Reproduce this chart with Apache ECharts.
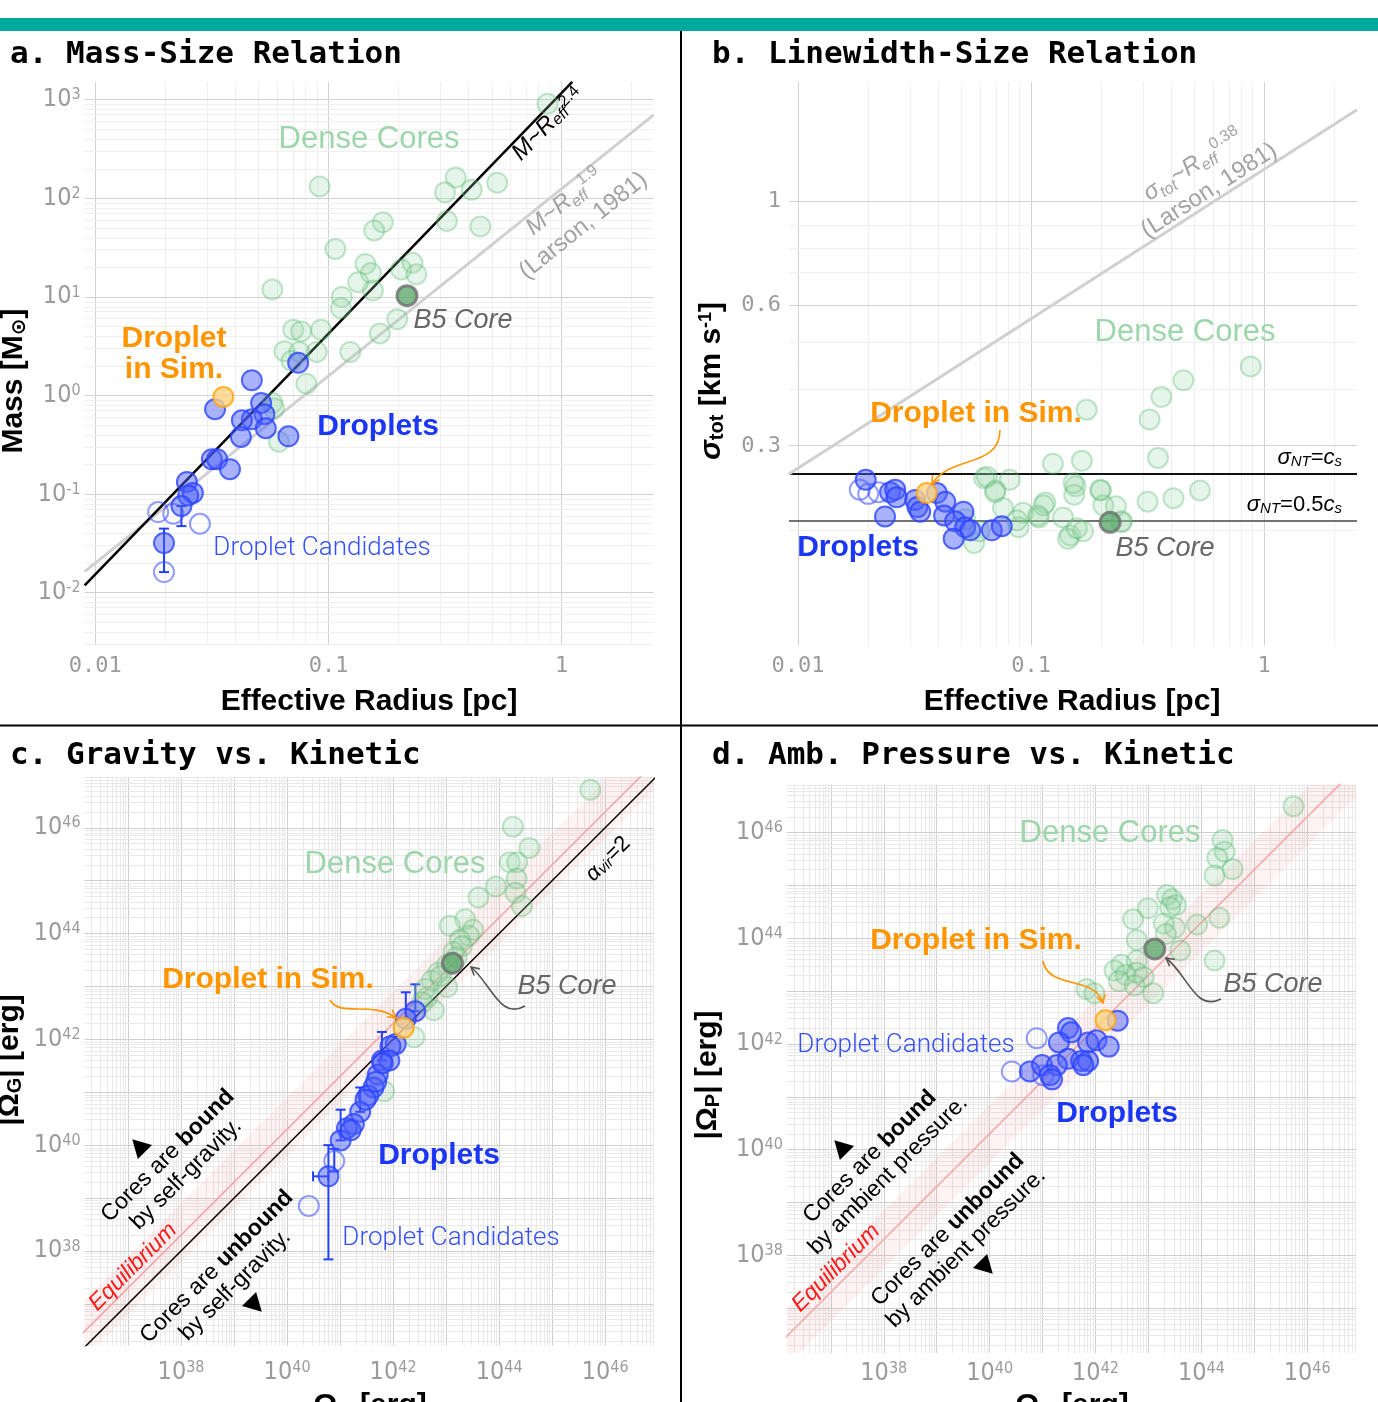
<!DOCTYPE html>
<html>
<head>
<meta charset="utf-8">
<script src="https://cdn.jsdelivr.net/npm/echarts@6/dist/echarts.min.js"></script>
<style>
  html, body { margin: 0; padding: 0; background: #fff; }
  #chart { width: 1378px; height: 1402px; }
</style>
</head>
<body>
<div id="chart"></div>
<script>
// ---------- a. mass-size : effective radius [pc], mass [Msun] ----------
var coreR_a = [0.869,0.0916,0.351,0.316,0.411,0.529,0.322,0.448,0.171,0.157,0.107,0.144,0.152,0.155,0.134,0.205,0.229,0.238,0.0574,0.114,0.113,0.197,0.166,0.124,0.0706,0.0763,0.0929,0.0647,0.0750,0.0890,0.0804,0.0694,0.0574,0.0584,0.0613];
var coreM_a = [910,132,163,115,122,144,58.8,51.9,57.1,47.2,30.7,21.6,17.5,11.6,14.1,19.0,22.2,17.0,11.9,10.0,7.69,5.95,4.26,2.77,4.65,4.47,4.65,2.82,2.77,2.77,1.32,2.25,0.841,0.743,0.340];
var dropR_a = [0.0741,0.0469,0.0326,0.0514,0.0531,0.0469,0.0425,0.0538,0.0421,0.0673,0.0316,0.0333,0.0378,0.0247,0.0262,0.0250,0.0234,0.0197];
var dropM_a = [2.15,1.43,0.726,0.841,0.646,0.574,0.561,0.466,0.380,0.386,0.226,0.226,0.179,0.133,0.103,0.097,0.0757,0.0319];
var candR_a = [0.0186,0.0216,0.0281,0.0197];
var candM_a = [0.0658,0.0634,0.0501,0.0162];
var simR_a = [0.0354], simM_a = [0.968];
var b5R_a = [0.217], b5M_a = [10.3];
var errA = [[0.0197,0.0162,0.0447],[0.0234,0.0474,0.0757]];   // R, M low, M high
var steepA = [[0.009,0.0119],[1.11,1514]];                  // M ~ R^2.4
var larsonA = [[0.009,0.0164],[2.48,703]];                  // M ~ R^1.9

// ---------- b. linewidth-size : effective radius [pc], sigma_tot [km/s] ----------
var coreR_b = [0.173,0.322,0.362,0.450,0.875,0.350,0.124,0.165,0.0629,0.0809,0.0703,0.155,0.199,0.153,0.316,0.408,0.530,0.0757,0.115,0.137,0.204,0.231,0.0923,0.108,0.0883,0.147,0.167,0.243,0.0569,0.0600,0.0521,0.0869,0.107,0.113,0.144,0.157,0.152,0.198,0.0646,0.070,0.245];
var coreS_b = [0.360,0.343,0.383,0.416,0.445,0.284,0.276,0.280,0.257,0.255,0.242,0.247,0.242,0.237,0.229,0.233,0.242,0.222,0.228,0.212,0.225,0.224,0.217,0.212,0.202,0.194,0.198,0.207,0.187,0.198,0.210,0.209,0.214,0.225,0.191,0.201,0.251,0.243,0.259,0.240,0.208];
var dropR_b = [0.0195,0.0248,0.0261,0.0265,0.0236,0.0318,0.0325,0.0334,0.0394,0.0428,0.0423,0.0512,0.0472,0.0521,0.0548,0.0465,0.0678,0.0748];
var dropS_b = [0.255,0.240,0.243,0.234,0.213,0.231,0.223,0.218,0.239,0.229,0.214,0.218,0.208,0.202,0.199,0.191,0.199,0.203];
var candR_b = [0.0184,0.0200,0.0221];
var candS_b = [0.243,0.238,0.240];
var simR_b = [0.0356], simS_b = [0.239];
var b5R_b = [0.218], b5S_b = [0.207];
var larsonB = [[0.0091,0.262],[2.5,1.57]];
var sigmaNT = [0.264, 0.209];   // sigma_NT = cs, sigma_NT = 0.5 cs

// ---------- c. gravity vs kinetic : log10 energies [erg] ----------
var coreK_c = [45.72,44.26,44.57,44.20,44.34,44.33,43.94,43.61,44.31,44.43,43.36,43.07,43.51,43.43,43.26,43.30,43.14,43.02,42.85,42.73,43.02,42.65,42.77,42.40,41.83,42.60,42.90,43.20,42.55];
var coreG_c = [46.72,46.02,45.62,45.35,45.35,45.04,44.89,44.68,44.77,44.52,44.27,44.15,44.07,43.96,43.88,43.76,43.65,43.41,43.26,43.11,42.99,42.80,42.55,42.04,41.02,42.95,43.20,43.55,42.70];
var dropK_c = [42.42,42.24,42.05,41.95,41.79,41.93,41.71,41.63,41.53,41.38,41.26,41.13,41.01,40.78,41.80,41.68,41.48,41.20];
var dropG_c = [42.53,42.39,41.91,41.87,41.60,41.60,41.33,41.09,40.94,40.63,40.40,40.32,40.09,39.41,41.55,41.20,40.86,40.28];
var candK_c = [40.41,40.89];
var candG_c = [38.85,39.70];
var simK_c = [42.20], simG_c = [42.22];
var b5K_c = [43.12], b5G_c = [43.44];
var errC = [[42.42,42.53,43.04],[42.24,42.39,42.89],[41.79,41.60,42.14],[41.38,40.63,41.09],[41.01,40.09,40.67],[40.78,37.84,40.00],[40.89,39.50,39.93]];
var errCx = [[39.41,40.49,40.78]];
var virC = [[36,36],[47,47]];
var eqC = [[36,36.3],[47,47.3]];
var bandC = [[36,35.8],[47,46.8],[47,47.9],[36,36.9]];

// ---------- d. ambient pressure vs kinetic : log10 energies [erg] ----------
var coreK_d = [45.74,44.40,44.44,44.30,44.59,44.25,43.35,43.45,43.52,43.41,42.99,42.71,44.34,43.92,43.29,43.50,43.33,42.78,43.60,44.25,42.78,42.49,42.36,42.57,42.78,42.91,42.44,42.74,43.09,41.83,41.98];
var coreP_d = [46.50,45.86,45.64,45.52,45.31,45.19,44.82,44.74,44.63,44.59,44.57,44.36,44.39,44.26,44.28,44.20,44.08,43.97,43.77,43.58,43.58,43.50,43.39,43.31,43.35,43.27,43.19,43.11,42.96,43.04,42.96];
var dropK_d = [42.42,41.48,41.54,41.31,41.86,42.02,42.25,41.48,41.73,41.86,41.77,40.76,40.99,41.27,41.14,41.18];
var dropP_d = [42.44,42.30,42.22,42.03,42.03,42.07,41.95,41.72,41.68,41.68,41.60,41.48,41.60,41.60,41.41,41.33];
var candK_d = [40.89,40.42,41.01];
var candP_d = [42.11,41.48,41.41];
var simK_d = [42.19], simP_d = [42.45];
var b5K_d = [43.12], b5P_d = [43.80];
var eqD = [[36,36.3],[47,47.3]];
var bandD = [[36,35.75],[47,46.75],[47,47.85],[36,36.85]];

// tick labels
var ticksRadius = [0.01, 0.1, 1];
var ticksMass = [-2, -1, 0, 1, 2, 3];
var ticksSigma = [0.3, 0.6, 1];
var ticksEnergy = [38, 40, 42, 44, 46];

// ---------- styles ----------
var FS = "'Liberation Sans', 'DejaVu Sans', sans-serif";
var NARROW = "'Liberation Sans Narrow', 'DejaVu Sans Condensed', 'Liberation Sans', sans-serif";
var MONO = "'DejaVu Sans Mono', monospace";
var GRAY = '#9b9b9b';
var BLUE = '#1b36f5';
var ORANGE = '#ff9500';
var GREEN_TXT = '#9dd6aa';

var stCore = {color: 'rgba(150,215,165,0.3)', borderColor: 'rgba(90,185,115,0.45)', borderWidth: 2};
var stDrop = {color: 'rgba(75,95,250,0.6)', borderColor: '#2a44ff', borderWidth: 2};
var stCand = {color: 'rgba(255,255,255,0)', borderColor: 'rgba(60,80,255,0.7)', borderWidth: 2};
var stSim = {color: '#fdd27f', borderColor: '#ffa20a', borderWidth: 2};
var stB5 = {color: '#5ea96e', borderColor: '#6e6e6e', borderWidth: 3};

function lg(v) { return Math.log10(v); }
function pairs(xs, ys, logIt) {
  return xs.map(function (x, i) { return logIt ? [lg(x), lg(ys[i])] : [x, ys[i]]; });
}
function sc(gi, xs, ys, style, z, logIt) {
  return {type: 'scatter', xAxisIndex: gi, yAxisIndex: gi, symbolSize: 20, z: z, silent: true,
    itemStyle: style, emphasis: {disabled: true}, data: pairs(xs, ys, logIt)};
}
function ln(gi, pts, color, width, z, logIt) {
  return {type: 'line', xAxisIndex: gi, yAxisIndex: gi, showSymbol: false, symbol: 'none', clip: true, z: z, silent: true,
    lineStyle: {color: color, width: width, type: 'solid'}, emphasis: {disabled: true},
    data: pts.map(function (p) { return logIt ? [lg(p[0]), lg(p[1])] : p; })};
}
function errSeries(gi, rows, logIt, horiz) {
  return {type: 'custom', xAxisIndex: gi, yAxisIndex: gi, z: 3, silent: true,
    data: rows.map(function (r) { return logIt ? r.map(function (v) { return lg(v); }) : r; }),
    renderItem: function (params, api) {
      var c = api.value(0), lo = api.value(1), hi = api.value(2);
      var a = horiz ? api.coord([lo, c]) : api.coord([c, lo]);
      var b = horiz ? api.coord([hi, c]) : api.coord([c, hi]);
      var w = 5, st = {stroke: '#2340ff', lineWidth: 2};
      var capA = horiz ? {x1: a[0], y1: a[1] - w, x2: a[0], y2: a[1] + w} : {x1: a[0] - w, y1: a[1], x2: a[0] + w, y2: a[1]};
      var capB = horiz ? {x1: b[0], y1: b[1] - w, x2: b[0], y2: b[1] + w} : {x1: b[0] - w, y1: b[1], x2: b[0] + w, y2: b[1]};
      return {type: 'group', children: [
        {type: 'line', shape: {x1: a[0], y1: a[1], x2: b[0], y2: b[1]}, style: st},
        {type: 'line', shape: capA, style: st},
        {type: 'line', shape: capB, style: st}
      ]};
    }};
}
function bandSeries(gi, pts, fill) {
  return {type: 'custom', xAxisIndex: gi, yAxisIndex: gi, z: 1, silent: true, data: pts,
    renderItem: function (params, api) {
      if (params.dataIndex !== 0) return null;
      var cs = params.coordSys;
      return {type: 'polygon', shape: {points: pts.map(function (p) { return api.coord(p); })},
        style: {fill: fill},
        clipPath: {type: 'rect', shape: {x: cs.x, y: cs.y, width: cs.width, height: cs.height}}};
    }};
}
// log-style grid lines (decades + 2..9 subdivisions) drawn as mark lines
function logGrid(gi, xr, yr, cMaj, cMin, yMajor, yMinor) {
  var d = [];
  function item(axis, v, c) {
    var o = {lineStyle: {color: c, width: 1, type: 'solid'}};
    o[axis] = v;
    return o;
  }
  function add(axis, lo, hi, majList, minList) {
    var n, k, v;
    if (minList) {
      minList.forEach(function (v) { d.push(item(axis, v, cMin)); });
    } else {
      for (n = Math.floor(lo) - 1; n <= Math.ceil(hi); n++) {
        for (k = 2; k <= 9; k++) {
          v = n + lg(k);
          if (v > lo && v < hi) d.push(item(axis, v, cMin));
        }
      }
    }
    if (majList) {
      majList.forEach(function (v) { d.push(item(axis, v, cMaj)); });
    } else {
      for (n = Math.ceil(lo); n <= Math.floor(hi); n++) d.push(item(axis, n, cMaj));
    }
  }
  add('xAxis', xr[0], xr[1]);
  add('yAxis', yr[0], yr[1], yMajor, yMinor);
  return {type: 'line', xAxisIndex: gi, yAxisIndex: gi, data: [], z: 0, silent: true,
    markLine: {z: 0, silent: true, symbol: ['none', 'none'], label: {show: false}, emphasis: {disabled: true},
      lineStyle: {type: 'solid'}, data: d}};
}

function powLabel(v) {
  var n = Math.round(v);
  return '{b|10}{s|' + (n < 0 ? '-' + (-n) : n) + '}';
}
var powRich = {
  b: {fontSize: 25, color: GRAY, fontFamily: NARROW},
  s: {fontSize: 16, color: GRAY, fontFamily: NARROW, verticalAlign: 'top'}
};

function xAx(gi, range, customVals, formatter, rich, margin, font) {
  return {gridIndex: gi, type: 'value', min: range[0], max: range[1],
    axisLine: {show: false}, axisTick: {show: false}, splitLine: {show: false},
    axisLabel: {customValues: customVals, formatter: formatter, rich: rich, margin: margin,
      color: GRAY, fontFamily: font || MONO, fontSize: 22}};
}

var rA = {x: [-2.046, 0.394], y: [-2.53, 3.18]};
var rB = {x: [-2.039, 0.398], y: [lg(0.113), lg(1.80)]};
var rC = {x: [36.18, 46.915], y: [36.21, 46.96]};
var rD = {x: [36.17, 46.92], y: [36.15, 46.91]};

function radiusFmt(v) { return String(parseFloat(Math.pow(10, v).toFixed(3))); }
function sigmaFmt(v) { return String(parseFloat(Math.pow(10, v).toFixed(2))); }

// ---------- graphic helpers ----------
function T(x, y, text, o) {
  o = o || {};
  return {type: 'text', x: x, y: y, rotation: o.rot || 0, z: 100, silent: true,
    style: {text: text, fill: o.fill || '#000', fontSize: o.size || 30, fontWeight: o.weight || 'normal',
      fontStyle: o.italic ? 'italic' : 'normal', fontFamily: o.family || FS,
      align: o.align || 'center', verticalAlign: 'middle', rich: o.rich, lineHeight: o.lh}};
}
function curve(p, color) {
  return {type: 'bezierCurve', z: 100, silent: true,
    shape: {x1: p[0], y1: p[1], cpx1: p[2], cpy1: p[3], cpx2: p[4], cpy2: p[5], x2: p[6], y2: p[7]},
    style: {stroke: color, lineWidth: 1.6, fill: null}};
}
function head(x, y, dx, dy, color) {
  var a = Math.atan2(dy, dx), L = 9, s = 0.5;
  return {type: 'polyline', z: 100, silent: true,
    shape: {points: [[x - L * Math.cos(a - s), y - L * Math.sin(a - s)], [x, y], [x - L * Math.cos(a + s), y - L * Math.sin(a + s)]]},
    style: {stroke: color, lineWidth: 1.6, fill: null}};
}
function tri(x, y, up) {
  var pts = up ? [[0, -11], [10, 7], [-10, 7]] : [[0, 11], [10, -7], [-10, -7]];
  return {type: 'polygon', x: x, y: y, rotation: Math.PI / 4, z: 100, silent: true,
    shape: {points: pts}, style: {fill: '#000'}};
}
function subsup(color, size, italic) {
  return {
    t: {fontSize: size, fill: color, fontFamily: FS, fontStyle: italic ? 'italic' : 'normal'},
    tn: {fontSize: size, fill: color, fontFamily: FS},
    sub: {fontSize: Math.round(size * 0.68), fill: color, fontFamily: FS, fontStyle: italic ? 'italic' : 'normal', verticalAlign: 'bottom'},
    sup: {fontSize: Math.round(size * 0.68), fill: color, fontFamily: FS, verticalAlign: 'top'}
  };
}
function boldRich(size, color) {
  return {
    r: {fontSize: size, fill: color, fontFamily: FS, lineHeight: size + 3},
    b: {fontSize: size, fill: color, fontFamily: FS, fontWeight: 'bold', lineHeight: size + 3}
  };
}
function axTitle(color) {
  return {
    t: {fontSize: 30, fontWeight: 'bold', fill: color, fontFamily: FS},
    ti: {fontSize: 30, fontWeight: 'bold', fontStyle: 'italic', fill: color, fontFamily: FS},
    sub: {fontSize: 20, fontWeight: 'bold', fill: color, fontFamily: FS, verticalAlign: 'bottom'},
    sup: {fontSize: 18, fontWeight: 'bold', fill: color, fontFamily: FS, verticalAlign: 'top'}
  };
}

var R4 = Math.PI / 4;
var graphics = [
  {type: 'rect', shape: {x: 0, y: 18, width: 1378, height: 13}, style: {fill: '#00a99d'}, silent: true},
  {type: 'line', shape: {x1: 681, y1: 31, x2: 681, y2: 1402}, style: {stroke: '#000', lineWidth: 2}, silent: true},
  {type: 'line', shape: {x1: 0, y1: 725.5, x2: 1378, y2: 725.5}, style: {stroke: '#000', lineWidth: 2}, silent: true},
  T(10, 55, 'a. Mass-Size Relation', {family: MONO, weight: 'bold', size: 31, align: 'left'}),
  T(712, 55, 'b. Linewidth-Size Relation', {family: MONO, weight: 'bold', size: 31, align: 'left'}),
  T(10, 756, 'c. Gravity vs. Kinetic', {family: MONO, weight: 'bold', size: 31, align: 'left'}),
  T(712, 756, 'd. Amb. Pressure vs. Kinetic', {family: MONO, weight: 'bold', size: 31, align: 'left'}),

  // axis titles
  T(369, 702, 'Effective Radius [pc]', {weight: 'bold', size: 30}),
  T(1072, 702, 'Effective Radius [pc]', {weight: 'bold', size: 30}),
  T(14, 381, '{t|Mass [M}{sub|⊙}{t|]}', {rot: Math.PI / 2, rich: axTitle('#000')}),
  T(712, 381, '{ti|σ}{sub|tot}{t| [km s}{sup|-1}{t|]}', {rot: Math.PI / 2, rich: axTitle('#000')}),
  T(10, 1060, '{t||Ω}{sub|G}{t|| [erg]}', {rot: Math.PI / 2, rich: axTitle('#000')}),
  T(708, 1075, '{t||Ω}{sub|P}{t|| [erg]}', {rot: Math.PI / 2, rich: axTitle('#000')}),
  T(370, 1406, '{t|Ω}{sub|K}{t| [erg]}', {rich: axTitle('#000')}),
  T(1072, 1406, '{t|Ω}{sub|K}{t| [erg]}', {rich: axTitle('#000')}),

  // panel a annotations
  T(369, 139, 'Dense Cores', {fill: GREEN_TXT, size: 31}),
  T(548, 124, '{t|M~R}{sub|eff}{sup|2.4}', {rot: 0.80, rich: subsup('#000', 24, true)}),
  T(574, 214, '{t|M~R}{sub|eff}{sup|1.9}\n{tn|(Larson, 1981)}', {rot: 0.675, rich: subsup('#a3a3a3', 24, true), lh: 30}),
  T(463, 320, 'B5 Core', {fill: '#666', size: 27, italic: true}),
  T(174, 354, 'Droplet\nin Sim.', {fill: ORANGE, size: 30, weight: 'bold', lh: 31}),
  T(378, 427, 'Droplets', {fill: BLUE, size: 30, weight: 'bold'}),
  T(322, 548, 'Droplet Candidates', {fill: '#3550f5', size: 26, weight: 300, family: "Roboto, " + FS}),

  // panel b annotations
  T(1185, 332, 'Dense Cores', {fill: GREEN_TXT, size: 31}),
  T(1201, 178, '{t|σ}{sub|tot}{t|~R}{sub|eff}{sup|0.38}\n{tn|(Larson, 1981)}', {rot: 0.57, rich: subsup('#a3a3a3', 24, true), lh: 30}),
  T(976, 414, 'Droplet in Sim.', {fill: ORANGE, size: 30, weight: 'bold'}),
  curve([1000, 430, 1000, 468, 950, 455, 932, 484], ORANGE),
  head(932, 484, -18, 29, ORANGE),
  T(1342, 458, '{t|σ}{sub|NT}{tn|=}{t|c}{sub|s}', {align: 'right', rich: subsup('#000', 22, true)}),
  T(1342, 505, '{t|σ}{sub|NT}{tn|=0.5}{t|c}{sub|s}', {align: 'right', rich: subsup('#000', 22, true)}),
  T(858, 548, 'Droplets', {fill: BLUE, size: 30, weight: 'bold'}),
  T(1165, 548, 'B5 Core', {fill: '#666', size: 27, italic: true}),

  // panel c annotations
  T(395, 864, 'Dense Cores', {fill: GREEN_TXT, size: 31}),
  T(608, 859, '{t|α}{sub|vir}{tn|=2}', {rot: R4, rich: subsup('#000', 22, true)}),
  T(268, 980, 'Droplet in Sim.', {fill: ORANGE, size: 30, weight: 'bold'}),
  curve([330, 1000, 340, 1018, 372, 1000, 396, 1018], ORANGE),
  head(396, 1018, 24, 18, ORANGE),
  T(567, 986, 'B5 Core', {fill: '#666', size: 27, italic: true}),
  curve([525, 1006, 500, 1020, 492, 985, 471, 967], '#555'),
  head(471, 967, -21, -18, '#555'),
  T(439, 1156, 'Droplets', {fill: BLUE, size: 30, weight: 'bold'}),
  T(451, 1238, 'Droplet Candidates', {fill: '#3550f5', size: 26, weight: 300, family: "Roboto, " + FS}),
  T(177, 1165, '{r|Cores are }{b|bound}\n{r|by self-gravity.}', {rot: R4, rich: boldRich(23, '#000')}),
  T(133, 1267, 'Equilibrium', {rot: R4, fill: '#ff1a1a', size: 23, italic: true}),
  T(226, 1276, '{r|Cores are }{b|unbound}\n{r|by self-gravity.}', {rot: R4, rich: boldRich(23, '#000')}),
  tri(140, 1147, true),
  tri(254, 1304, false),

  // panel d annotations
  T(1110, 833, 'Dense Cores', {fill: GREEN_TXT, size: 31}),
  T(976, 941, 'Droplet in Sim.', {fill: ORANGE, size: 30, weight: 'bold'}),
  curve([1043, 961, 1048, 990, 1095, 975, 1103, 1003], ORANGE),
  head(1103, 1003, 8, 28, ORANGE),
  T(1273, 984, 'B5 Core', {fill: '#666', size: 27, italic: true}),
  curve([1221, 999, 1195, 1012, 1188, 975, 1166, 958], '#555'),
  head(1166, 958, -22, -17, '#555'),
  T(906, 1045, 'Droplet Candidates', {fill: '#3550f5', size: 26, weight: 300, family: "Roboto, " + FS}),
  T(1117, 1114, 'Droplets', {fill: BLUE, size: 30, weight: 'bold'}),
  T(879, 1166, '{r|Cores are }{b|bound}\n{r|by ambient pressure.}', {rot: R4, rich: boldRich(23, '#000')}),
  T(836, 1268, 'Equilibrium', {rot: R4, fill: '#ff1a1a', size: 23, italic: true}),
  T(957, 1239, '{r|Cores are }{b|unbound}\n{r|by ambient pressure.}', {rot: R4, rich: boldRich(23, '#000')}),
  tri(842, 1148, true),
  tri(985, 1266, false)
];

var option = {
  animation: false,
  backgroundColor: '#fff',
  grid: [
    {left: 84.6, top: 82, width: 569, height: 563, outerBoundsMode: 'none'},
    {left: 789, top: 82, width: 568, height: 563.5, outerBoundsMode: 'none'},
    {left: 84.6, top: 777, width: 569, height: 568.6, outerBoundsMode: 'none'},
    {left: 786.9, top: 784.6, width: 569, height: 568.4, outerBoundsMode: 'none'}
  ],
  xAxis: [
    xAx(0, rA.x, ticksRadius.map(lg), radiusFmt, null, 10),
    xAx(1, rB.x, ticksRadius.map(lg), radiusFmt, null, 10),
    xAx(2, rC.x, ticksEnergy, powLabel, powRich, 14),
    xAx(3, rD.x, ticksEnergy, powLabel, powRich, 8)
  ],
  yAxis: [
    {gridIndex: 0, type: 'value', min: rA.y[0], max: rA.y[1], axisLine: {show: false}, axisTick: {show: false}, splitLine: {show: false},
      axisLabel: {customValues: ticksMass, formatter: powLabel, rich: powRich, margin: 4}},
    {gridIndex: 1, type: 'value', min: rB.y[0], max: rB.y[1], axisLine: {show: false}, axisTick: {show: false}, splitLine: {show: false},
      axisLabel: {customValues: ticksSigma.map(lg), formatter: sigmaFmt, margin: 8, color: GRAY, fontFamily: MONO, fontSize: 22}},
    {gridIndex: 2, type: 'value', min: rC.y[0], max: rC.y[1], axisLine: {show: false}, axisTick: {show: false}, splitLine: {show: false},
      axisLabel: {customValues: ticksEnergy, formatter: powLabel, rich: powRich, margin: 4}},
    {gridIndex: 3, type: 'value', min: rD.y[0], max: rD.y[1], axisLine: {show: false}, axisTick: {show: false}, splitLine: {show: false},
      axisLabel: {customValues: ticksEnergy, formatter: powLabel, rich: powRich, margin: 4}}
  ],
  series: [
    // grids
    logGrid(0, rA.x, rA.y, '#d2d2d2', '#efefef'),
    logGrid(1, rB.x, rB.y, '#d2d2d2', '#efefef', ticksSigma.map(lg), [0.2, 0.4, 0.5, 0.7, 0.8, 0.9].map(lg)),
    logGrid(2, rC.x, rC.y, '#cfcfcf', '#e9e9e9'),
    logGrid(3, rD.x, rD.y, '#cfcfcf', '#e9e9e9'),

    // a
    ln(0, larsonA, '#d0d0d0', 3, 2, true),
    ln(0, steepA, '#000', 2.5, 2, true),
    sc(0, coreR_a, coreM_a, stCore, 3, true),
    sc(0, b5R_a, b5M_a, stB5, 4, true),
    errSeries(0, errA, true, false),
    sc(0, candR_a, candM_a, stCand, 5, true),
    sc(0, dropR_a, dropM_a, stDrop, 5, true),
    sc(0, simR_a, simM_a, stSim, 6, true),

    // b
    ln(1, larsonB, '#d0d0d0', 3, 2, true),
    {type: 'line', xAxisIndex: 1, yAxisIndex: 1, data: [], z: 2, silent: true,
      markLine: {z: 2, silent: true, symbol: ['none', 'none'], label: {show: false}, emphasis: {disabled: true},
        data: [{yAxis: lg(sigmaNT[0]), lineStyle: {color: '#111', width: 2.2, type: 'solid'}},
               {yAxis: lg(sigmaNT[1]), lineStyle: {color: '#444', width: 1.6, type: 'solid'}}]}},
    sc(1, coreR_b, coreS_b, stCore, 3, true),
    sc(1, b5R_b, b5S_b, stB5, 4, true),
    sc(1, candR_b, candS_b, stCand, 5, true),
    sc(1, dropR_b, dropS_b, stDrop, 5, true),
    sc(1, simR_b, simS_b, stSim, 6, true),

    // c
    bandSeries(2, bandC, 'rgba(255,90,90,0.08)'),
    ln(2, eqC, '#f4a3a3', 1.5, 2, false),
    ln(2, virC, '#000', 1.5, 2, false),
    sc(2, coreK_c, coreG_c, stCore, 3, false),
    sc(2, b5K_c, b5G_c, stB5, 4, false),
    errSeries(2, errC, false, false),
    errSeries(2, errCx, false, true),
    sc(2, candK_c, candG_c, stCand, 5, false),
    sc(2, dropK_c, dropG_c, stDrop, 5, false),
    sc(2, simK_c, simG_c, stSim, 6, false),

    // d
    bandSeries(3, bandD, 'rgba(255,90,90,0.08)'),
    ln(3, eqD, '#f4a3a3', 1.5, 2, false),
    sc(3, coreK_d, coreP_d, stCore, 3, false),
    sc(3, b5K_d, b5P_d, stB5, 4, false),
    sc(3, candK_d, candP_d, stCand, 5, false),
    sc(3, dropK_d, dropP_d, stDrop, 5, false),
    sc(3, simK_d, simP_d, stSim, 6, false)
  ],
  graphic: graphics
};

var chart = echarts.init(document.getElementById('chart'));
chart.setOption(option);
</script>
</body>
</html>
